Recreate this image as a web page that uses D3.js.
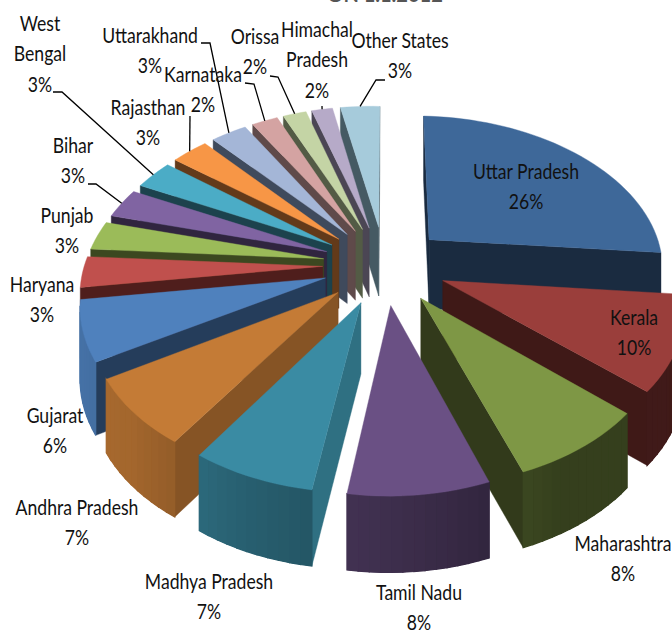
<!DOCTYPE html>
<html>
<head>
<meta charset="utf-8">
<script src="https://cdn.jsdelivr.net/npm/d3@7"></script>
<style>
  html, body { margin: 0; padding: 0; background: #fff; overflow: hidden; }
  svg { display: block; }
  text { font-family: Lato, "Liberation Sans", sans-serif; fill: #111; }
  .leader { fill: none; stroke: #000; stroke-width: 1.3; }
</style>
</head>
<body>
<div id="chart"></div>
<script>
var states = ['Uttar Pradesh', 'Kerala', 'Maharashtra', 'Tamil Nadu', 'Madhya Pradesh', 'Andhra Pradesh',
  'Gujarat', 'Haryana', 'Punjab', 'Bihar', 'West Bengal', 'Rajasthan', 'Uttarakhand', 'Karnataka',
  'Orissa', 'Himachal Pradesh', 'Other States'];
// the labels show these rounded
var shares = [26, 10, 8, 8, 7, 7, 6.2, 3.2, 3, 3.1, 3.1, 3, 3, 2.2, 2, 1.8, 3.4];

var topColors = ['#3E6899', '#9A3E3B', '#7E9745', '#6A5084', '#3A8BA3', '#C47B36', '#4F81BD', '#C0504D',
  '#9BBB59', '#8064A2', '#4BACC6', '#F79646', '#A4B6D7', '#D4A3A2', '#C4D4A5', '#B6AAC8', '#A6CBDB'];
var wallColors = ['#1A2B40', '#3F1917', '#323A1B', '#2F2440', '#2F7082', '#865425', '#253D5B', '#4F1E1C',
  '#3C4820', '#30253F', '#1C424D', '#633A1A', '#3F4A5C', '#5F4A4A', '#535B45', '#4B4654', '#455A63'];

// how each label wraps, and where its first line sits
var labelLines = [['Uttar Pradesh'], ['Kerala'], ['Maharashtra'], ['Tamil Nadu'], ['Madhya Pradesh'], ['Andhra Pradesh'],
  ['Gujarat'], ['Haryana'], ['Punjab'], ['Bihar'], ['West', 'Bengal'], ['Rajasthan'], ['Uttarakhand'], ['Karnataka'],
  ['Orissa'], ['Himachal', 'Pradesh'], ['Other States']];
var labelAnchors = [[526, 171], [634, 317], [623, 543], [419, 592], [209, 581], [77, 507],
  [55, 415], [42, 284], [67, 215], [73, 145], [40, 23], [148, 107], [150, 35], [203, 74],
  [255, 36], [317, 29], [400, 40]];
// leader lines start next to the label text, they end on the slice (null = no leader)
var leaderStarts = [null, null, null, null, null, null, null, null, null,
  [[88, 184], [96, 184]], [[53, 92], [62, 92]], [[190, 116]], [[201, 43], [210, 43]], [[245, 83], [254, 84]],
  [[270, 76], [278, 77]], [[322, 106]], [[385, 80], [376, 80]]];

var width = 672, height = 630;
var lineGap = 30.5;
var labelSquash = 0.8;

// the tilted disc: radius 1 on the ground plane, x to the right, y towards the viewer
var view = { cx: 385, cy: 265, fx: 236, fy: 149, persp: 0.148, skewFront: 9, skewLeft: 6, skewRight: 4, pinch: 11, explode: 0.263 };

function project(x, y) {
  var w = 1 - view.persp * y;
  var px = view.cx + view.fx * x / w;
  var py = view.cy + view.fy * y / w;
  if (y > 0) { px -= view.skewFront * y; }
  if (x < 0 && y < 0) { px += view.pinch * x * y; } // back left of the original sits a bit tighter
  py += (x < 0 ? view.skewLeft : view.skewRight) * x;
  return [px, py];
}

function thickness(y) { return 70 + 5 * y; }

function drop(x, y) {
  var p = project(x, y);
  return [p[0], p[1] + thickness(y)];
}

// outer wall gets darker going round to the right side of the pie
var arcShade = d3.scaleLinear()
  .domain([90, 150, 172, 200, 225, 250, 360])
  .range([0.41, 0.42, 0.55, 0.68, 0.83, 0.88, 0.9])
  .clamp(true);

var svg = d3.select('#chart').append('svg')
  .attr('width', width)
  .attr('height', height);

var path = d3.line();

var pie = d3.pie().sort(null).startAngle(0).endAngle(2 * Math.PI);

var slices = pie(shares).map(function (d, i) {
  var mid = (d.startAngle + d.endAngle) / 2;
  return {
    index: i,
    start: d.startAngle,
    end: d.endAngle,
    mid: mid,
    ox: view.explode * Math.sin(mid),
    oy: -view.explode * Math.cos(mid)
  };
});

function rimPoint(s, a) {
  return [s.ox + Math.sin(a), s.oy - Math.cos(a)];
}

function rimAngles(s) {
  var steps = Math.max(6, Math.ceil((s.end - s.start) / 0.04));
  return d3.range(steps + 1).map(function (k) { return s.start + (s.end - s.start) * k / steps; });
}

// only faces turned to the viewer get drawn
function facesViewer(poly) { return d3.polygonArea(poly) > 0; }

function wall(a, b) {
  return [project(a[0], a[1]), project(b[0], b[1]), drop(b[0], b[1]), drop(a[0], a[1])];
}

function drawSlice(g, s) {
  var apex = [s.ox, s.oy];
  var first = rimPoint(s, s.start);
  var last = rimPoint(s, s.end);
  var angles = rimAngles(s);

  [wall(apex, first), wall(last, apex)].forEach(function (poly) {
    if (facesViewer(poly)) {
      g.append('path')
        .attr('d', path(poly) + 'Z')
        .attr('fill', wallColors[s.index])
        .attr('stroke', wallColors[s.index])
        .attr('stroke-width', 0.4);
    }
  });

  var toColor = d3.interpolateRgb('#000', topColors[s.index]);
  var strips = d3.pairs(angles).map(function (pair) {
    return {
      poly: wall(rimPoint(s, pair[0]), rimPoint(s, pair[1])),
      colour: toColor(arcShade((pair[0] + pair[1]) / 2 * 180 / Math.PI))
    };
  }).filter(function (strip) { return facesViewer(strip.poly); });

  // first pass bleeds under the seams so the strips don't show hairlines
  strips.forEach(function (strip) {
    g.append('path')
      .attr('d', path(strip.poly) + 'Z')
      .attr('fill', strip.colour)
      .attr('stroke', strip.colour)
      .attr('stroke-width', 1.2);
  });
  strips.forEach(function (strip) {
    g.append('path')
      .attr('d', path(strip.poly) + 'Z')
      .attr('fill', strip.colour);
  });

  var face = [apex].concat(angles.map(function (a) { return rimPoint(s, a); }))
    .map(function (p) { return project(p[0], p[1]); });
  g.append('path')
    .attr('d', path(face) + 'Z')
    .attr('fill', topColors[s.index])
    .attr('stroke', topColors[s.index])
    .attr('stroke-width', 0.4);
}

// back to front so nearer slices cover the ones behind
var order = slices.slice().sort(function (a, b) { return d3.ascending(a.oy, b.oy); });
var pieGroup = svg.append('g').attr('class', 'pie');
order.forEach(function (s) {
  drawSlice(pieGroup.append('g').attr('class', 'slice'), s);
});

// leader lines
leaderStarts.forEach(function (start, i) {
  if (!start) { return; }
  var s = slices[i];
  var rim = rimPoint(s, s.mid);
  svg.append('path')
    .attr('class', 'leader')
    .attr('d', path(start.concat([project(rim[0], rim[1])])));
});

// labels
labelLines.forEach(function (lines, i) {
  var rows = lines.concat([Math.round(shares[i]) + '%']);
  var g = svg.append('g').attr('class', 'label');
  rows.forEach(function (row, k) {
    g.append('text')
      .attr('transform', 'translate(' + labelAnchors[i][0] + ',' + (labelAnchors[i][1] + k * lineGap) + ') scale(' + labelSquash + ',1)')
      .attr('dy', '0.35em')
      .attr('text-anchor', 'middle')
      .attr('font-size', 22)
      .text(row);
  });
});

// title is cut off by the top edge in the original
svg.append('text')
  .attr('x', 385)
  .attr('y', 2)
  .attr('text-anchor', 'middle')
  .attr('font-size', 20)
  .attr('font-weight', 'bold')
  .style('fill', '#555')
  .text('ON 1.1.2012');
</script>
</body>
</html>
